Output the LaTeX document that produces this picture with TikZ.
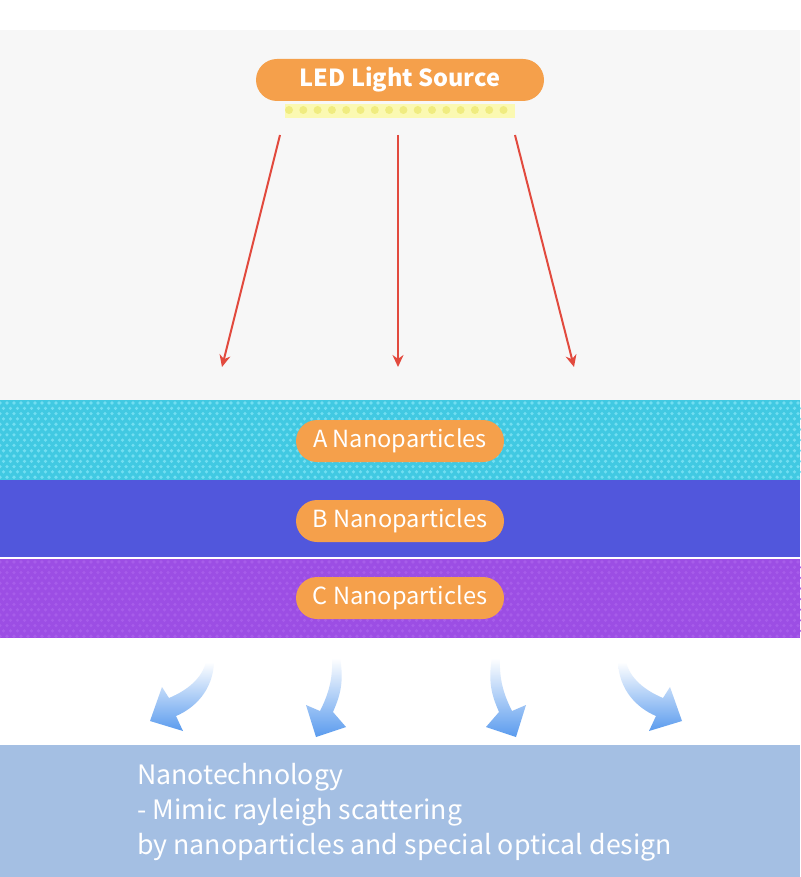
\documentclass[tikz,border=0pt]{standalone}
\usepackage{fontspec}
\setmainfont{Noto Sans CJK SC}
\usepackage{xcolor}
\usetikzlibrary{arrows.meta, positioning}

\definecolor{skygrey}{HTML}{F7F7F7}
\definecolor{pillorange}{HTML}{F5A04B}
\definecolor{raysred}{HTML}{E24A3E}
\definecolor{ledglow}{HTML}{FBF9B2}
\definecolor{leddot}{HTML}{F0EC80}
\definecolor{layercyan}{HTML}{41C9E2}
\definecolor{cyandot}{HTML}{72DEF1}
\definecolor{layerblue}{HTML}{5157DC}
\definecolor{layerpurple}{HTML}{9C4EE4}
\definecolor{purpledot}{HTML}{A75DEA}
\definecolor{scatterblue}{HTML}{5A9BEE}
\definecolor{notebox}{HTML}{A4BFE3}

\tikzset{
  pill/.style={rectangle, rounded corners=21pt, fill=pillorange, text=white,
    minimum height=42pt, inner sep=0pt, font=\fontsize{23.6}{27}\selectfont},
  ray/.style={draw=raysred, line width=2pt, -{Stealth[length=12pt, width=11pt]}},
  scatter/.style={top color=white, bottom color=scatterblue},
}

\begin{document}
\begin{tikzpicture}[x=1pt, y=-1pt]
\useasboundingbox (0,0) rectangle (800,877);
\fill[white] (0,0) rectangle (800,877);
\fill[skygrey] (0,30) rectangle (800,400);

% nanoparticle layers
\fill[layercyan] (0,400) rectangle (800,480);
\foreach \r in {0,...,14}
  \fill[cyandot] \foreach \c in {0,...,115} {({\c*7+mod(\r,2)*3.5}, {403+\r*5.3}) circle (1.8)};
\fill[layerblue] (0,480) rectangle (800,557);
\fill[layerpurple] (0,559) rectangle (800,638);
\foreach \r in {0,...,14}
  \fill[purpledot] \foreach \c in {0,...,115} {({\c*7+mod(\r,2)*3.5}, {562+\r*5.3}) circle (1.8)};
\fill[notebox] (0,745) rectangle (800,877);

% light source
\node (source) [pill, minimum width=288pt, font=\fontsize{23.5}{28}\selectfont\bfseries] at (400,80) {LED Light Source};
\node (led) [rectangle, fill=ledglow, minimum width=230pt, minimum height=14pt, inner sep=0pt, below=3pt of source] {};
\foreach \i in {0,...,15}
  \fill[leddot] ({289+\i*14.3}, 110) circle (4);

% rays
\coordinate (srcL) at (280,135);
\coordinate (srcM) at (398,135);
\coordinate (srcR) at (515,135);
\coordinate (hitL) at (222,367);
\coordinate (hitM) at (398,367);
\coordinate (hitR) at (574,367);
\draw[ray] (srcL) -- (hitL);
\draw[ray] (srcM) -- (hitM);
\draw[ray] (srcR) -- (hitR);

\node (layerA) [pill, minimum width=208pt] at (400,441) {A Nanoparticles};
\node (layerB) [pill, minimum width=208pt] at (400,521) {B Nanoparticles};
\node (layerC) [pill, minimum width=208pt] at (400,598) {C Nanoparticles};

% scattered light
\shade[scatter] (214,662) .. controls (213,690) and (195,708) .. (176,716) -- (183,731) -- (150,721)
  -- (162,687) -- (169,698) .. controls (188,690) and (202,678) .. (206,662) -- cycle;
\shade[scatter] (340,658) .. controls (345,685) and (338,700) .. (333,712) -- (346,727) -- (316,737)
  -- (306,705) -- (320,711) .. controls (328,695) and (333,680) .. (332,658) -- cycle;
\begin{scope}[xshift=832pt, xscale=-1]
\shade[scatter] (214,662) .. controls (213,690) and (195,708) .. (176,716) -- (183,731) -- (150,721)
  -- (162,687) -- (169,698) .. controls (188,690) and (202,678) .. (206,662) -- cycle;
\shade[scatter] (340,658) .. controls (345,685) and (338,700) .. (333,712) -- (346,727) -- (316,737)
  -- (306,705) -- (320,711) .. controls (328,695) and (333,680) .. (332,658) -- cycle;
\end{scope}

\node (note) [anchor=north west, inner sep=0pt, align=left, text=white,
  font=\fontsize{26.7}{35}\selectfont] at (137,763)
  {Nanotechnology\\- Mimic rayleigh scattering\\by nanoparticles and special optical design};
\end{tikzpicture}
\end{document}
